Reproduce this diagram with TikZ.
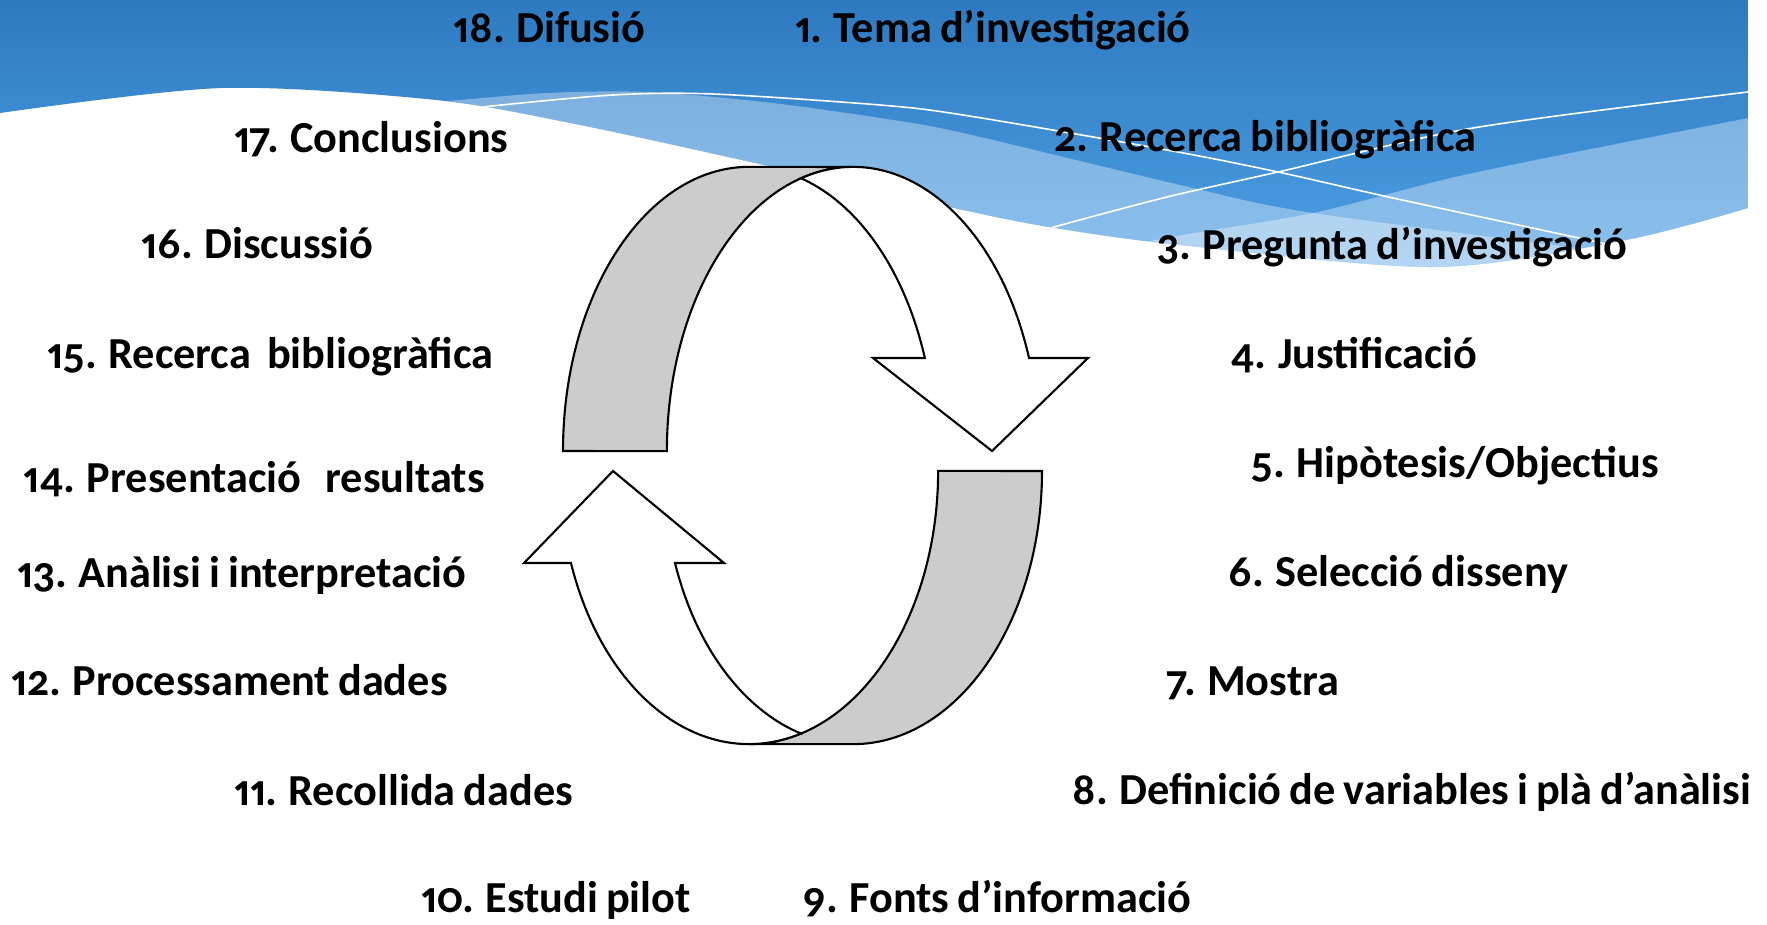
\documentclass[tikz,border=0pt]{standalone}
\usepackage{fontspec}
\setmainfont{Carlito}[Numbers={OldStyle,Proportional}, WordSpace=0.8]

\definecolor{topblue}{RGB}{46,122,192}
\definecolor{lowblue}{RGB}{78,160,230}
\definecolor{ringgray}{RGB}{204,204,204}

\begin{document}
\begin{tikzpicture}[
		x=0.01cm, y=0.01cm,
		etapa/.style={anchor=base west, inner sep=0pt, font=\bfseries\fontsize{12.6}{14}\selectfont},
		ring/.style={draw=black, line width=0.6pt, line join=miter},
		wline/.style={white, line width=0.45pt},
		]
		\useasboundingbox (0,0) rectangle (1767,-924);
		
		%background waves
		\begin{scope}
			\clip (0,0) -- plot[smooth] coordinates {(0,-113) (222,-88) (436,-100) (580,-125) (764,-165) (963,-210) (1055,-228) (1180,-245) (1435,-267) (1626,-240) (1748,-208)} -- (1748,0) -- cycle;
			\shade[top color=topblue, bottom color=lowblue] (0,0) rectangle (1748,-270);
			\fill[white, opacity=0.35] plot[smooth] coordinates {(380,-107) (437,-102) (547,-93) (647,-92) (764,-102) (880,-118) (963,-133) (1180,-185) (1313,-213) (1631,-255) (1700,-265)} -- (1700,-330) -- (380,-330) -- cycle;
			\fill[white, opacity=0.35] plot[smooth] coordinates {(1050,-265) (1166,-238) (1313,-213) (1473,-173) (1748,-118) (1760,-115)} -- (1760,-330) -- (1050,-330) -- cycle;
			\draw[wline] plot[smooth] coordinates {(470,-110) (482,-107) (613,-95) (713,-94) (880,-105) (963,-115) (1167,-150) (1278,-172) (1393,-198) (1588,-240) (1640,-252)};
			\draw[wline] plot[smooth] coordinates {(1040,-232) (1054,-227) (1167,-197) (1278,-172) (1473,-128) (1748,-92)};
		\end{scope}
		
		%upper half of the ring
		\coordinate (xtop) at (801,-178.3);
		\filldraw[ring, fill=ringgray] (563,-451) arc[start angle=180, end angle=90, x radius=1.86cm, y radius=2.84cm] -- (853,-167) arc[start angle=90, end angle=180, x radius=1.86cm, y radius=2.84cm] -- cycle;
		\filldraw[ring, fill=white] (xtop) arc[start angle=73.77, end angle=19.12, x radius=1.86cm, y radius=2.84cm] -- (873,-358) -- (992,-451) -- (1088,-358) -- (1029,-358) arc[start angle=19.12, end angle=106.23, x radius=1.86cm, y radius=2.84cm] -- cycle;
		
		%lower half of the ring
		\coordinate (xbot) at (801,-733.5);
		\filldraw[ring, fill=ringgray] (1042,-471) arc[start angle=0, end angle=-90, x radius=1.89cm, y radius=2.73cm] -- (749,-744) arc[start angle=-90, end angle=0, x radius=1.89cm, y radius=2.73cm] -- cycle;
		\filldraw[ring, fill=white] (xbot) arc[start angle=-74.03, end angle=-160.3, x radius=1.89cm, y radius=2.73cm] -- (524,-563) -- (613,-471) -- (724,-563) -- (675,-563) arc[start angle=199.7, end angle=254.03, x radius=1.89cm, y radius=2.73cm] -- cycle;
		
		%stages, right side
		\node[etapa] (e1) at (795,-42) {1. Tema d’investigació};
		\node[etapa] (e2) at (1054,-151) {2. Recerca bibliogràfica};
		\node[etapa] (e3) at (1157,-259) {3. Pregunta d’investigació};
		\node[etapa] (e4) at (1230,-368) {4. Justificació};
		\node[etapa] (e5) at (1251,-477) {5. Hipòtesis/Objectius};
		\node[etapa] (e6) at (1228,-586) {6. Selecció disseny};
		\node[etapa] (e7) at (1166,-695) {7. Mostra};
		\node[etapa] (e8) at (1072,-804) {8. Definició de variables i plà d’anàlisi};
		\node[etapa] (e9) at (802,-912) {9. Fonts d’informació};
		
		%stages, left side
		\node[etapa] (e10) at (421,-912) {10. Estudi pilot};
		\node[etapa] (e11) at (234,-805) {11. Recollida dades};
		\node[etapa] (e12) at (11,-695) {12. Processament dades};
		\node[etapa] (e13) at (17,-587) {13. Anàlisi i interpretació};
		\node[etapa] (e14) at (23,-492) {14. Presentació~~~resultats};
		\node[etapa] (e15) at (47,-368) {15. Recerca~~bibliogràfica};
		\node[etapa] (e16) at (141,-258) {16. Discussió};
		\node[etapa] (e17) at (234,-152) {17. Conclusions};
		\node[etapa] (e18) at (453,-42) {18. Difusió};
	\end{tikzpicture}
\end{document}
